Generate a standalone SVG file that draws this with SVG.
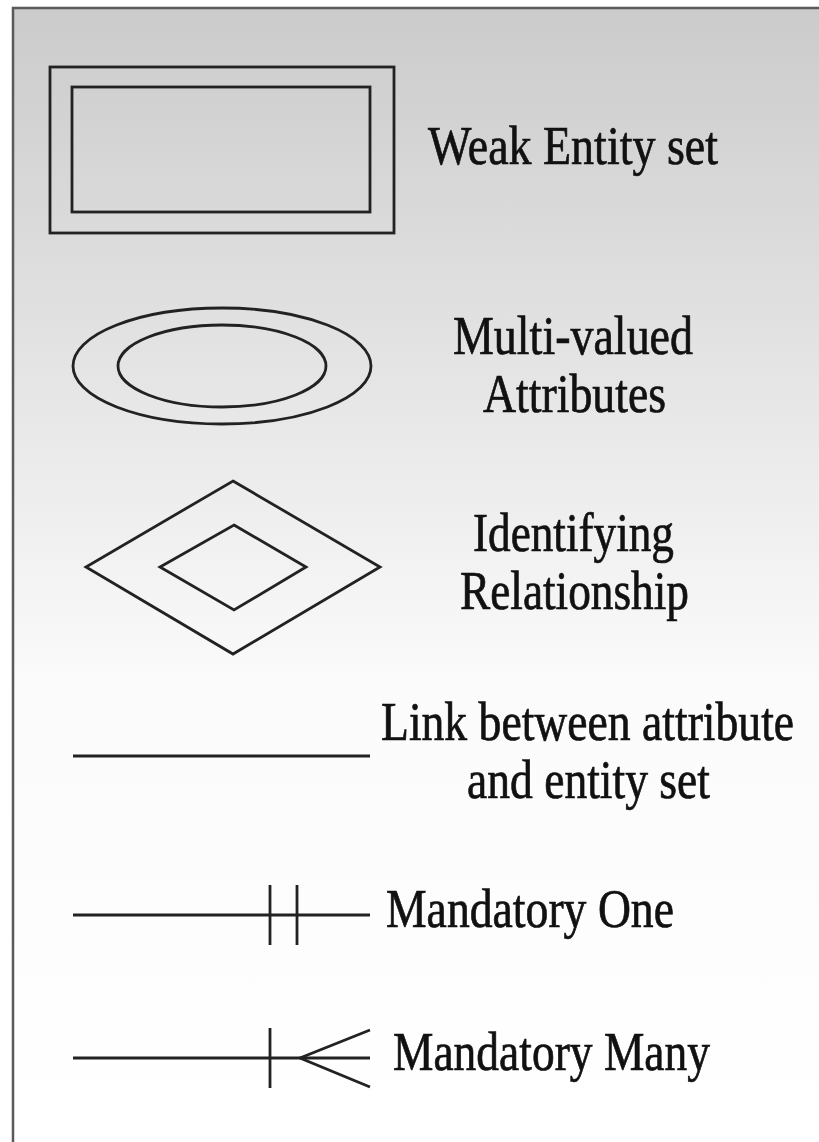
<svg xmlns="http://www.w3.org/2000/svg" width="819" height="1142" viewBox="0 0 819 1142">
<defs>
<linearGradient id="bg" x1="0" y1="0" x2="0" y2="1">
<stop offset="0" stop-color="#cbcbcb"/>
<stop offset="0.6" stop-color="#fbfbfb"/>
<stop offset="1" stop-color="#ffffff"/>
</linearGradient>
<style>
.s{fill:none;stroke:#222;stroke-width:2.8}
.t{font-family:"Liberation Serif","Times New Roman",serif;font-size:54px;fill:#111;stroke:#111;stroke-width:0.7}
</style>
</defs>
<rect x="0" y="0" width="819" height="1142" fill="#ffffff"/>
<rect x="13" y="8" width="806" height="1134" fill="url(#bg)"/>
<path d="M13,1142 V8 H819" fill="none" stroke="#5a5a5a" stroke-width="2.5"/>
<g id="weak-entity">
<rect class="s" x="50" y="67" width="344" height="166"/>
<rect class="s" x="72" y="87" width="298" height="125"/>
<text class="t" x="428" y="164" textLength="290" lengthAdjust="spacingAndGlyphs">Weak Entity set</text>
</g>
<g id="multivalued">
<ellipse class="s" cx="222" cy="366" rx="149" ry="58"/>
<ellipse class="s" cx="222" cy="366" rx="104" ry="41"/>
<text class="t" x="453" y="354" textLength="240" lengthAdjust="spacingAndGlyphs">Multi-valued</text>
<text class="t" x="483" y="412" textLength="183" lengthAdjust="spacingAndGlyphs">Attributes</text>
</g>
<g id="identifying">
<polygon class="s" points="233,481 380,567 233,654 86,567"/>
<polygon class="s" points="234,525 306,567 234,610 160,567"/>
<text class="t" x="473" y="551" textLength="201" lengthAdjust="spacingAndGlyphs">Identifying</text>
<text class="t" x="460" y="609" textLength="229" lengthAdjust="spacingAndGlyphs">Relationship</text>
</g>
<g id="link">
<text class="t" transform="translate(381,740) scale(0.85,1)" x="0" y="0" textLength="486" lengthAdjust="spacingAndGlyphs">Link between attribute</text>
<text class="t" x="467" y="798" textLength="243" lengthAdjust="spacingAndGlyphs">and entity set</text>
</g>
<g id="mandatory-one">
<text class="t" x="386" y="927" textLength="288" lengthAdjust="spacingAndGlyphs">Mandatory One</text>
</g>
<g id="mandatory-many">
<text class="t" x="393" y="1070" textLength="317" lengthAdjust="spacingAndGlyphs">Mandatory Many</text>
</g>
<g id="connectors">
<line class="s" x1="73" y1="756" x2="370" y2="756"/>
<line class="s" x1="73" y1="915" x2="370" y2="915"/>
<line class="s" x1="270" y1="885" x2="270" y2="945"/>
<line class="s" x1="297" y1="885" x2="297" y2="945"/>
<line class="s" x1="73" y1="1058" x2="370" y2="1058"/>
<line class="s" x1="270" y1="1028" x2="270" y2="1088"/>
<polyline class="s" points="370,1030 300,1058 370,1087"/>
</g>
</svg>
